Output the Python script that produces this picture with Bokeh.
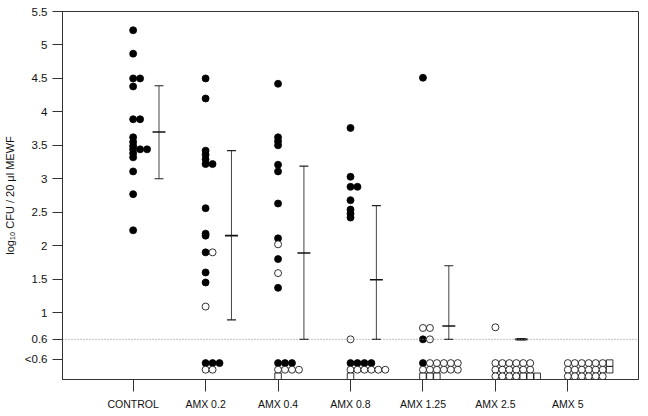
from bokeh.plotting import figure
from bokeh.models import Range1d, FixedTicker, Span
from bokeh.embed import file_html
from bokeh.resources import INLINE

# ---------------- data ----------------
groups = ["CONTROL", "AMX 0.2", "AMX 0.4", "AMX 0.8", "AMX 1.25", "AMX 2.5", "AMX 5"]

# individual values above the detection limit (log10 CFU / 20 ul MEWF)
control_filled = [5.22, 4.87, 4.50, 4.50, 4.38, 3.89, 3.89, 3.62, 3.55, 3.49,
                  3.44, 3.44, 3.44, 3.38, 3.32, 3.11, 2.77, 2.23]
control_open = []
amx02_filled = [4.50, 4.20, 3.42, 3.36, 3.29, 3.22, 3.22, 2.56, 2.18, 2.15,
                1.90, 1.60, 1.45]
amx02_open = [1.90, 1.09]
amx04_filled = [4.42, 3.62, 3.56, 3.50, 3.21, 3.11, 2.63, 2.11, 1.80, 1.37]
amx04_open = [2.02, 1.59]
amx08_filled = [3.76, 3.03, 2.88, 2.88, 2.68, 2.54, 2.48, 2.42]
amx08_open = [0.60]
amx125_filled = [4.51, 0.60]
amx125_open = [0.77, 0.77, 0.60]
amx25_filled = []
amx25_open = [0.78]
amx5_filled = []
amx5_open = []

# values below the detection limit (<0.6), one string per row:
# F = filled circle, O = open circle, S = open square
control_below = []
amx02_below = ["FFF", "OO"]
amx04_below = ["FFF", "OOOO", "S"]
amx08_below = ["FFFF", "OOOOOO", "S"]
amx125_below = ["FOOOOO", "OOOOOO", "SSS"]
amx25_below = ["OOOOOO", "OOOOOO", "OOOOSSS"]
amx5_below = ["OOOOOOS", "OOOOOOS", "OOOOOO"]

# mean and mean +/- SD
means = [3.70, 2.15, 1.89, 1.49, 0.80, 0.60, None]
sd_low = [3.00, 0.89, 0.60, 0.60, 0.60, 0.59, None]
sd_high = [4.39, 3.42, 3.19, 2.60, 1.70, 0.61, None]

detection_limit = 0.6
ytick_values = [0.3, 0.6, 1, 1.5, 2, 2.5, 3, 3.5, 4, 4.5, 5, 5.5]
ytick_labels = ["<0.6", "0.6", "1", "1.5", "2", "2.5", "3", "3.5", "4", "4.5", "5", "5.5"]

filled_sets = [control_filled, amx02_filled, amx04_filled, amx08_filled,
               amx125_filled, amx25_filled, amx5_filled]
open_sets = [control_open, amx02_open, amx04_open, amx08_open,
             amx125_open, amx25_open, amx5_open]
below_sets = [control_below, amx02_below, amx04_below, amx08_below,
              amx125_below, amx25_below, amx5_below]

# ---------------- layout ----------------
W, H = 640, 412
BL, BR, BT, BB = 59, 2, 11, 33
X0, X1 = -0.975, 6.975
Y0, Y1 = 0.0, 5.5
px_x = (W - BL - BR) / (X1 - X0)
px_y = (H - BT - BB) / (Y1 - Y0)
dot_dx = 7.0 / px_x
row_dy = 6.6 / px_y
row_top = 0.245
bar_off = 26.0 / px_x
cap_half = 4.5 / px_x
mean_half = 6.5 / px_x

FONT = "Liberation Sans"

p = figure(width=W, height=H, x_range=Range1d(X0, X1), y_range=Range1d(Y0, Y1),
           output_backend="svg", toolbar_location=None,
           min_border_left=BL, min_border_right=BR, min_border_top=BT,
           min_border_bottom=BB)
p.xgrid.visible = False
p.ygrid.visible = False
p.outline_line_color = "#333333"
p.outline_line_width = 1
p.outline_line_alpha = 1.0
p.background_fill_color = "white"
p.border_fill_color = "white"

# detection limit dotted line
p.add_layout(Span(location=detection_limit, dimension="width",
                  line_color="#888888", line_dash="1 2", line_width=1))

fx, fy, ox, oy, sx, sy = [], [], [], [], [], []
for gi in range(len(groups)):
    placed = []
    for vals, kind in ((filled_sets[gi], "F"), (open_sets[gi], "O")):
        for v in vals:
            slot = sum(1 for u in placed if abs(u - v) < 0.005)
            placed.append(v)
            x = gi + slot * dot_dx
            if kind == "F":
                fx.append(x); fy.append(v)
            else:
                ox.append(x); oy.append(v)
    for r, row in enumerate(below_sets[gi]):
        y = row_top - r * row_dy
        for c, ch in enumerate(row):
            x = gi + c * dot_dx
            if ch == "F":
                fx.append(x); fy.append(y)
            elif ch == "O":
                ox.append(x); oy.append(y)
            else:
                sx.append(x); sy.append(y)

# error bars
vx0, vy0, vx1, vy1 = [], [], [], []
cx0, cy0, cx1, cy1 = [], [], [], []
mx0, my0, mx1, my1 = [], [], [], []
for gi in range(len(groups)):
    if means[gi] is None:
        continue
    bx = gi + bar_off
    vx0.append(bx); vy0.append(sd_low[gi]); vx1.append(bx); vy1.append(sd_high[gi])
    for yv in (sd_low[gi], sd_high[gi]):
        cx0.append(bx - cap_half); cy0.append(yv); cx1.append(bx + cap_half); cy1.append(yv)
    mx0.append(bx - mean_half); my0.append(means[gi]); mx1.append(bx + mean_half); my1.append(means[gi])

p.segment(vx0, vy0, vx1, vy1, line_color="#444444", line_width=1)
p.segment(cx0, cy0, cx1, cy1, line_color="#222222", line_width=1.2)
p.segment(mx0, my0, mx1, my1, line_color="#111111", line_width=1.6)

p.scatter(fx, fy, marker="circle", size=7, fill_color="black", line_color="black", line_width=0.8)
p.scatter(ox, oy, marker="circle", size=7, fill_color="white", line_color="black", line_width=0.8)
p.scatter(sx, sy, marker="square", size=6.5, fill_color="white", line_color="black", line_width=0.8)

# axes
p.xaxis.ticker = FixedTicker(ticks=list(range(len(groups))))
p.xaxis.major_label_overrides = {i: g for i, g in enumerate(groups)}
p.yaxis.ticker = FixedTicker(ticks=ytick_values)
p.yaxis.major_label_overrides = {v: l for v, l in zip(ytick_values, ytick_labels)}
for ax in (p.xaxis[0], p.yaxis[0]):
    ax.axis_line_color = "#333333"
    ax.major_tick_line_color = "#333333"
    ax.major_tick_in = 0
    ax.minor_tick_in = 0
    ax.minor_tick_out = 0
    ax.major_label_text_font = FONT
    ax.major_label_text_color = "#111111"
p.xaxis.major_tick_out = 12
p.xaxis.major_label_standoff = 6
p.xaxis.major_label_text_font_size = "10.5px"
p.yaxis.major_tick_out = 10
p.yaxis.major_label_standoff = 5
p.yaxis.major_label_text_font_size = "11.5px"
p.yaxis.axis_label = "log\u2081\u2080 CFU / 20 \u03bcl MEWF"
p.yaxis.axis_label_text_font = FONT
p.yaxis.axis_label_text_font_style = "normal"
p.yaxis.axis_label_text_font_size = "11px"
p.yaxis.axis_label_standoff = 6
p.yaxis.axis_label_text_color = "#111111"

open("out.html", "w").write(file_html(p, INLINE))
